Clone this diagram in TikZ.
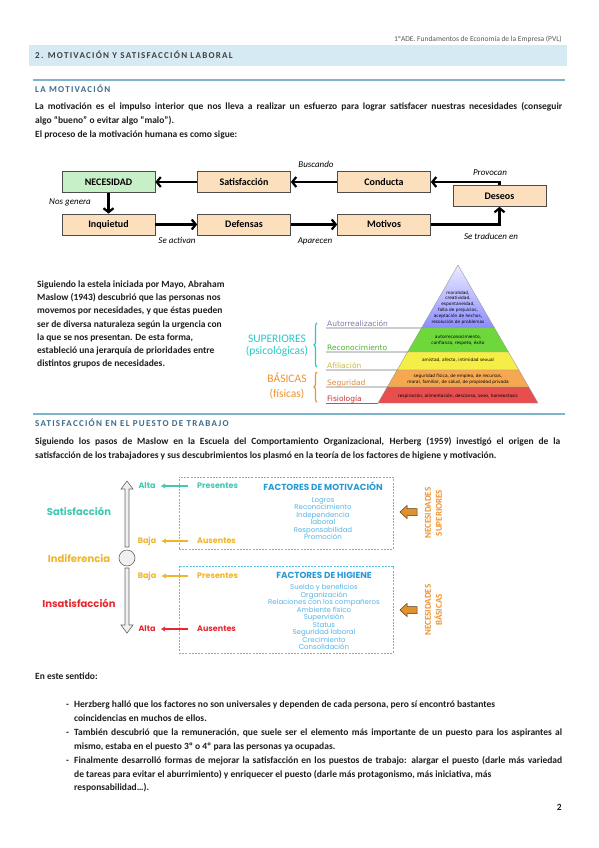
\documentclass[tikz,border=0pt]{standalone}
\usepackage{fontspec}
\setmainfont{Carlito}
\newfontfamily\gothicfont{Poppins}
\newfontfamily\pyrfont{DejaVu Sans}
\usetikzlibrary{arrows.meta,calc,decorations.pathreplacing}

\definecolor{bandblue}{RGB}{214,234,243}
\definecolor{rulecol}{RGB}{125,182,204}
\definecolor{headblue}{RGB}{60,108,138}
\definecolor{bodygray}{RGB}{30,30,30}
\definecolor{needgreen}{RGB}{200,240,200}
\definecolor{peach}{RGB}{252,224,190}
\definecolor{pyrgreen}{RGB}{110,215,60}
\definecolor{pyryellow}{RGB}{245,238,70}
\definecolor{pyrorange}{RGB}{245,168,80}
\definecolor{pyrred}{RGB}{232,78,78}
\definecolor{lblpurple}{RGB}{120,120,170}
\definecolor{lblgreen}{RGB}{70,180,40}
\definecolor{lblyellow}{RGB}{196,188,70}
\definecolor{lblorange}{RGB}{220,140,60}
\definecolor{lblred}{RGB}{200,50,50}
\definecolor{supteal}{RGB}{40,200,200}
\definecolor{basorange}{RGB}{240,146,46}
\definecolor{hteal}{RGB}{64,200,176}
\definecolor{hamber}{RGB}{242,180,40}
\definecolor{hred}{RGB}{232,40,46}
\definecolor{dashblue}{RGB}{90,190,230}
\definecolor{facblue}{RGB}{40,155,215}
\definecolor{itemblue}{RGB}{85,180,230}
\definecolor{arrorange}{RGB}{224,146,46}

\tikzset{
    bodytext/.style={anchor=base west,inner sep=0pt,font=\bfseries\fontsize{9.5}{11}\selectfont,text=bodygray},
    sechead/.style={anchor=base west,inner sep=0pt,font=\bfseries\fontsize{9}{10}\selectfont\addfontfeatures{LetterSpace=14}},
    flowbox/.style={draw=black!70,line width=0.7pt,fill=peach,minimum width=93pt,minimum height=21pt,inner sep=0pt,font=\bfseries\fontsize{10}{11}\selectfont},
    flowarr/.style={-{Straight Barb[length=4pt,width=10pt]},line width=2.2pt},
    flowlbl/.style={inner sep=0pt,font=\itshape\fontsize{9}{10}\selectfont},
    pyrlbl/.style={anchor=base west,inner sep=0pt,font=\pyrfont\fontsize{7.5}{8}\selectfont},
    pyrtxt/.style={align=center,inner sep=0pt,font=\pyrfont\fontsize{4.3}{5.8}\selectfont},
    grplbl/.style={align=center,inner sep=0pt,font=\fontsize{11.5}{12}\selectfont},
    sidelbl/.style={inner sep=0pt,font=\gothicfont\bfseries\fontsize{10}{11}\selectfont},
    lvllbl/.style={inner sep=0pt,font=\gothicfont\bfseries\fontsize{8}{9}\selectfont},
    dashbox/.style={draw=dashblue,line width=0.8pt,dash pattern=on 2pt off 1.2pt,inner sep=0pt},
    factitle/.style={inner sep=0pt,text=facblue,font=\gothicfont\bfseries\fontsize{8.8}{10}\selectfont},
    factitem/.style={align=center,inner sep=0pt,text=itemblue,font=\gothicfont\fontsize{7}{7.5}\selectfont},
    needlbl/.style={rotate=90,align=center,inner sep=0pt,text=basorange,font=\bfseries\fontsize{9}{11}\selectfont},
    hollowarr/.style={fill=gray!12,draw=black!60,line width=0.6pt},
    blockarr/.style={fill=arrorange,draw=black!60!arrorange,line width=0.5pt}
}

\begin{document}
\begin{tikzpicture}[x=1pt,y=-1pt]
    \useasboundingbox[fill=white] (0,0) rectangle (599,848);

    % cabecera
    \node[anchor=base east,inner sep=0pt,font=\fontsize{7.5}{8}\selectfont,text=black!65] (runhead) at (562,42) {1ºADE. Fundamentos de Economía de la Empresa (PVL)};
    \fill[bandblue] (29,45) rectangle (567,66);
    \node[sechead,text=black!75] (chap) at (35,59) {2. MOTIVACIÓN Y SATISFACCIÓN LABORAL};
    \draw[rulecol,line width=1.5pt] (33,80) -- (565,80);
    \node[sechead,text=headblue] (secmot) at (35,92.5) {LA MOTIVACIÓN};

    \node[bodytext] (pa1) at (35,110) {\makebox[527pt][s]{La motivación es el impulso interior que nos lleva a realizar un esfuerzo para lograr satisfacer nuestras necesidades (conseguir}};
    \node[bodytext] (pa2) at (35,124) {algo “bueno” o evitar algo “malo”).};
    \node[bodytext] (pa3) at (35,138) {El proceso de la motivación humana es como sigue:};

    % ciclo de la motivacion
    \node[flowbox,fill=needgreen] (need) at (108.5,182) {NECESIDAD};
    \node[flowbox] (satis) at (244,182) {Satisfacción};
    \node[flowbox] (cond) at (384,182) {Conducta};
    \node[flowbox] (wish) at (499.5,196) {Deseos};
    \node[flowbox] (unrest) at (108.5,224.5) {Inquietud};
    \node[flowbox] (defs) at (244,224.5) {Defensas};
    \node[flowbox] (motiv) at (384,224.5) {Motivos};

    \draw[flowarr] (satis) -- (need);
    \draw[flowarr] (cond) -- (satis);
    \draw[flowarr] (wish.north) |- (cond.east);
    \draw[flowarr] (need) -- (unrest);
    \draw[flowarr] (unrest) -- (defs);
    \draw[flowarr] (defs) -- (motiv);
    \draw[flowarr] (motiv.east) -| (wish.south);

    \node[flowlbl] (lsearch) at (316,164) {Buscando};
    \node[flowlbl] (lcause) at (490,173) {Provocan};
    \node[flowlbl] (lgen) at (70,202) {Nos genera};
    \node[flowlbl] (lact) at (177,240) {Se activan};
    \node[flowlbl] (lappear) at (315,241) {Aparecen};
    \node[flowlbl] (ltrans) at (491,236) {Se traducen en};

    % Maslow
    \node[bodytext] (pm1) at (37,287) {Siguiendo la estela iniciada por Mayo, Abraham};
    \node[bodytext] (pm2) at (37,300) {Maslow (1943) descubrió que las personas nos};
    \node[bodytext] (pm3) at (37,313) {movemos por necesidades, y que éstas pueden};
    \node[bodytext] (pm4) at (37,327) {ser de diversa naturaleza según la urgencia con};
    \node[bodytext] (pm5) at (37,340) {la que se nos presentan. De esta forma,};
    \node[bodytext] (pm6) at (37,353) {estableció una jerarquía de prioridades entre};
    \node[bodytext] (pm7) at (37,366) {distintos grupos de necesidades.};

    \coordinate (apex) at (458,265);
    \coordinate (baseL) at (378,403);
    \coordinate (baseR) at (538,403);
    \shade[top color=blue!8,bottom color=blue!45!white,draw=black!40,line width=0.4pt]
        (apex) -- ($(apex)!0.4565!(baseL)$) -- ($(apex)!0.4565!(baseR)$) -- cycle;
    \foreach \ta/\tb/\col in {0.4565/0.6304/pyrgreen,0.6304/0.7609/pyryellow,0.7609/0.8841/pyrorange,0.8841/1/pyrred}
        \filldraw[fill=\col,draw=black!40,line width=0.4pt]
            ($(apex)!\ta!(baseL)$) -- ($(apex)!\tb!(baseL)$) -- ($(apex)!\tb!(baseR)$) -- ($(apex)!\ta!(baseR)$) -- cycle;

    \foreach \t/\y/\txt/\col [count=\i] in {0.4565/328/Autorrealización/lblpurple,0.6304/352/Reconocimiento/lblgreen,0.7609/370/Afiliación/lblyellow,0.8841/387/Seguridad/lblorange,1/403/Fisiología/lblred}{
        \draw[black!55,line width=0.8pt] (326,\y) -- ($(apex)!\t!(baseL)$);
        \node[pyrlbl,text=\col] (lvl\i) at (327,\y-2) {\txt};
    }

    \node[pyrtxt] (ptop) at (458,307.5) {moralidad,\\creatividad,\\espontaneidad,\\falta de prejuicios,\\aceptación de hechos,\\resolución de problemas};
    \node[pyrtxt] (pgreen) at (458,340) {autorreconocimiento,\\confianza, respeto, éxito};
    \node[pyrtxt] (pyellow) at (458,360.5) {amistad, afecto, intimidad sexual};
    \node[pyrtxt] (porange) at (458,379) {seguridad física, de empleo, de recursos,\\moral, familiar, de salud, de propiedad privada};
    \node[pyrtxt] (pred) at (458,396.5) {respiración, alimentación, descanso, sexo, homeostasis};

    \draw[decorate,decoration={brace,amplitude=3pt},supteal,line width=1.2pt] (317,367) -- (317,323);
    \draw[decorate,decoration={brace,amplitude=3pt},basorange,line width=1.2pt] (317,402) -- (317,372);
    \node[grplbl,text=supteal] (grpsup) at (277,346) {SUPERIORES\\(psicológicas)};
    \node[grplbl,text=basorange,font=\fontsize{11.5}{15}\selectfont] (grpbas) at (287,385.5) {BÁSICAS\\(físicas)};

    % satisfaccion en el puesto
    \draw[rulecol,line width=1.5pt] (33,414) -- (565,414);
    \node[sechead,text=headblue] (secsat) at (35,426.5) {SATISFACCIÓN EN EL PUESTO DE TRABAJO};
    \node[bodytext] (ph1) at (35,444) {\makebox[525pt][s]{Siguiendo los pasos de Maslow en la Escuela del Comportamiento Organizacional, Herberg (1959) investigó el origen de la}};
    \node[bodytext] (ph2) at (35,458) {satisfacción de los trabajadores y sus descubrimientos los plasmó en la teoría de los factores de higiene y motivación.};

    % escala de Herzberg
    \filldraw[hollowarr] (125,547) -- (125,489) -- (121,489) -- (127,481) -- (133,489) -- (129,489) -- (129,547) -- cycle;
    \filldraw[hollowarr] (125,568) -- (125,625) -- (121,625) -- (127,633) -- (133,625) -- (129,625) -- (129,568) -- cycle;
    \node[circle,hollowarr,minimum size=16pt,inner sep=0pt] (neutral) at (127,558) {};

    \node[sidelbl,text=hteal] (sidesat) at (79,511) {Satisfacción};
    \node[sidelbl,text=hamber] (sideind) at (79,559) {Indiferencia};
    \node[sidelbl,text=hred] (sideins) at (79,603) {Insatisfacción};

    \node[dashbox,minimum width=214pt,minimum height=72pt] (motbox) at (286,513) {};
    \node[dashbox,minimum width=214pt,minimum height=87pt] (higbox) at (286,609.5) {};

    \foreach \y/\lvl/\fac/\col [count=\i] in {486/Alta/Presentes/hteal,541/Baja/Ausentes/hamber,576/Baja/Presentes/hamber,629/Alta/Ausentes/hred}{
        \node[lvllbl,text=\col] (deg\i) at (147,\y) {\lvl};
        \node[lvllbl,text=\col,anchor=west] (fac\i) at (197,\y) {\fac};
        \draw[-{Latex[length=4.5pt,width=5.5pt]},\col,line width=1.3pt,shorten <=9pt,shorten >=5pt] (fac\i.west) -- (deg\i.east);
    }

    \node[factitle] (mottitle) at (323,486) {FACTORES DE MOTIVACIÓN};
    \node[factitem] (motlist) at (323,518.5) {Logros\\Reconocimiento\\Independencia\\laboral\\Responsabilidad\\Promoción};
    \node[factitle] (higtitle) at (324,575) {FACTORES DE HIGIENE};
    \node[factitem] (higlist) at (324,617) {Sueldo y beneficios\\Organización\\Relaciones con los compañeros\\Ambiente físico\\Supervisión\\Status\\Seguridad laboral\\Crecimiento\\Consolidación};

    \foreach \y in {512,610}
        \filldraw[blockarr,shift={(0,\y)}] (417,-3.5) -- (407,-3.5) -- (407,-6.5) -- (400,0) -- (407,6.5) -- (407,3.5) -- (417,3.5) -- cycle;
    \node[needlbl] (needsup) at (433.5,513) {NECESIDADES\\SUPERIORES};
    \node[needlbl] (needbas) at (433.5,610) {NECESIDADES\\BÁSICAS};

    % conclusiones
    \node[bodytext] (pc0) at (35,679) {En este sentido:};
    \foreach \y in {707,735,763}
        \node[bodytext] at (66,\y) {-};
    \node[bodytext] (pc1) at (74,707) {Herzberg halló que los factores no son universales y dependen de cada persona, pero sí encontró bastantes};
    \node[bodytext] (pc2) at (74,721) {coincidencias en muchos de ellos.};
    \node[bodytext] (pc3) at (74,735) {\makebox[488pt][s]{También descubrió que la remuneración, que suele ser el elemento más importante de un puesto para los aspirantes al}};
    \node[bodytext] (pc4) at (74,749) {mismo, estaba en el puesto 3º o 4º para las personas ya ocupadas.};
    \node[bodytext] (pc5) at (74,763) {\makebox[488pt][s]{Finalmente desarrolló formas de mejorar la satisfacción en los puestos de trabajo: alargar el puesto (darle más variedad}};
    \node[bodytext] (pc6) at (74,777) {de tareas para evitar el aburrimiento) y enriquecer el puesto (darle más protagonismo, más iniciativa, más};
    \node[bodytext] (pc7) at (74,790) {responsabilidad…).};
    \node[bodytext,anchor=base east] (pagenum) at (562,810) {2};
\end{tikzpicture}
\end{document}
